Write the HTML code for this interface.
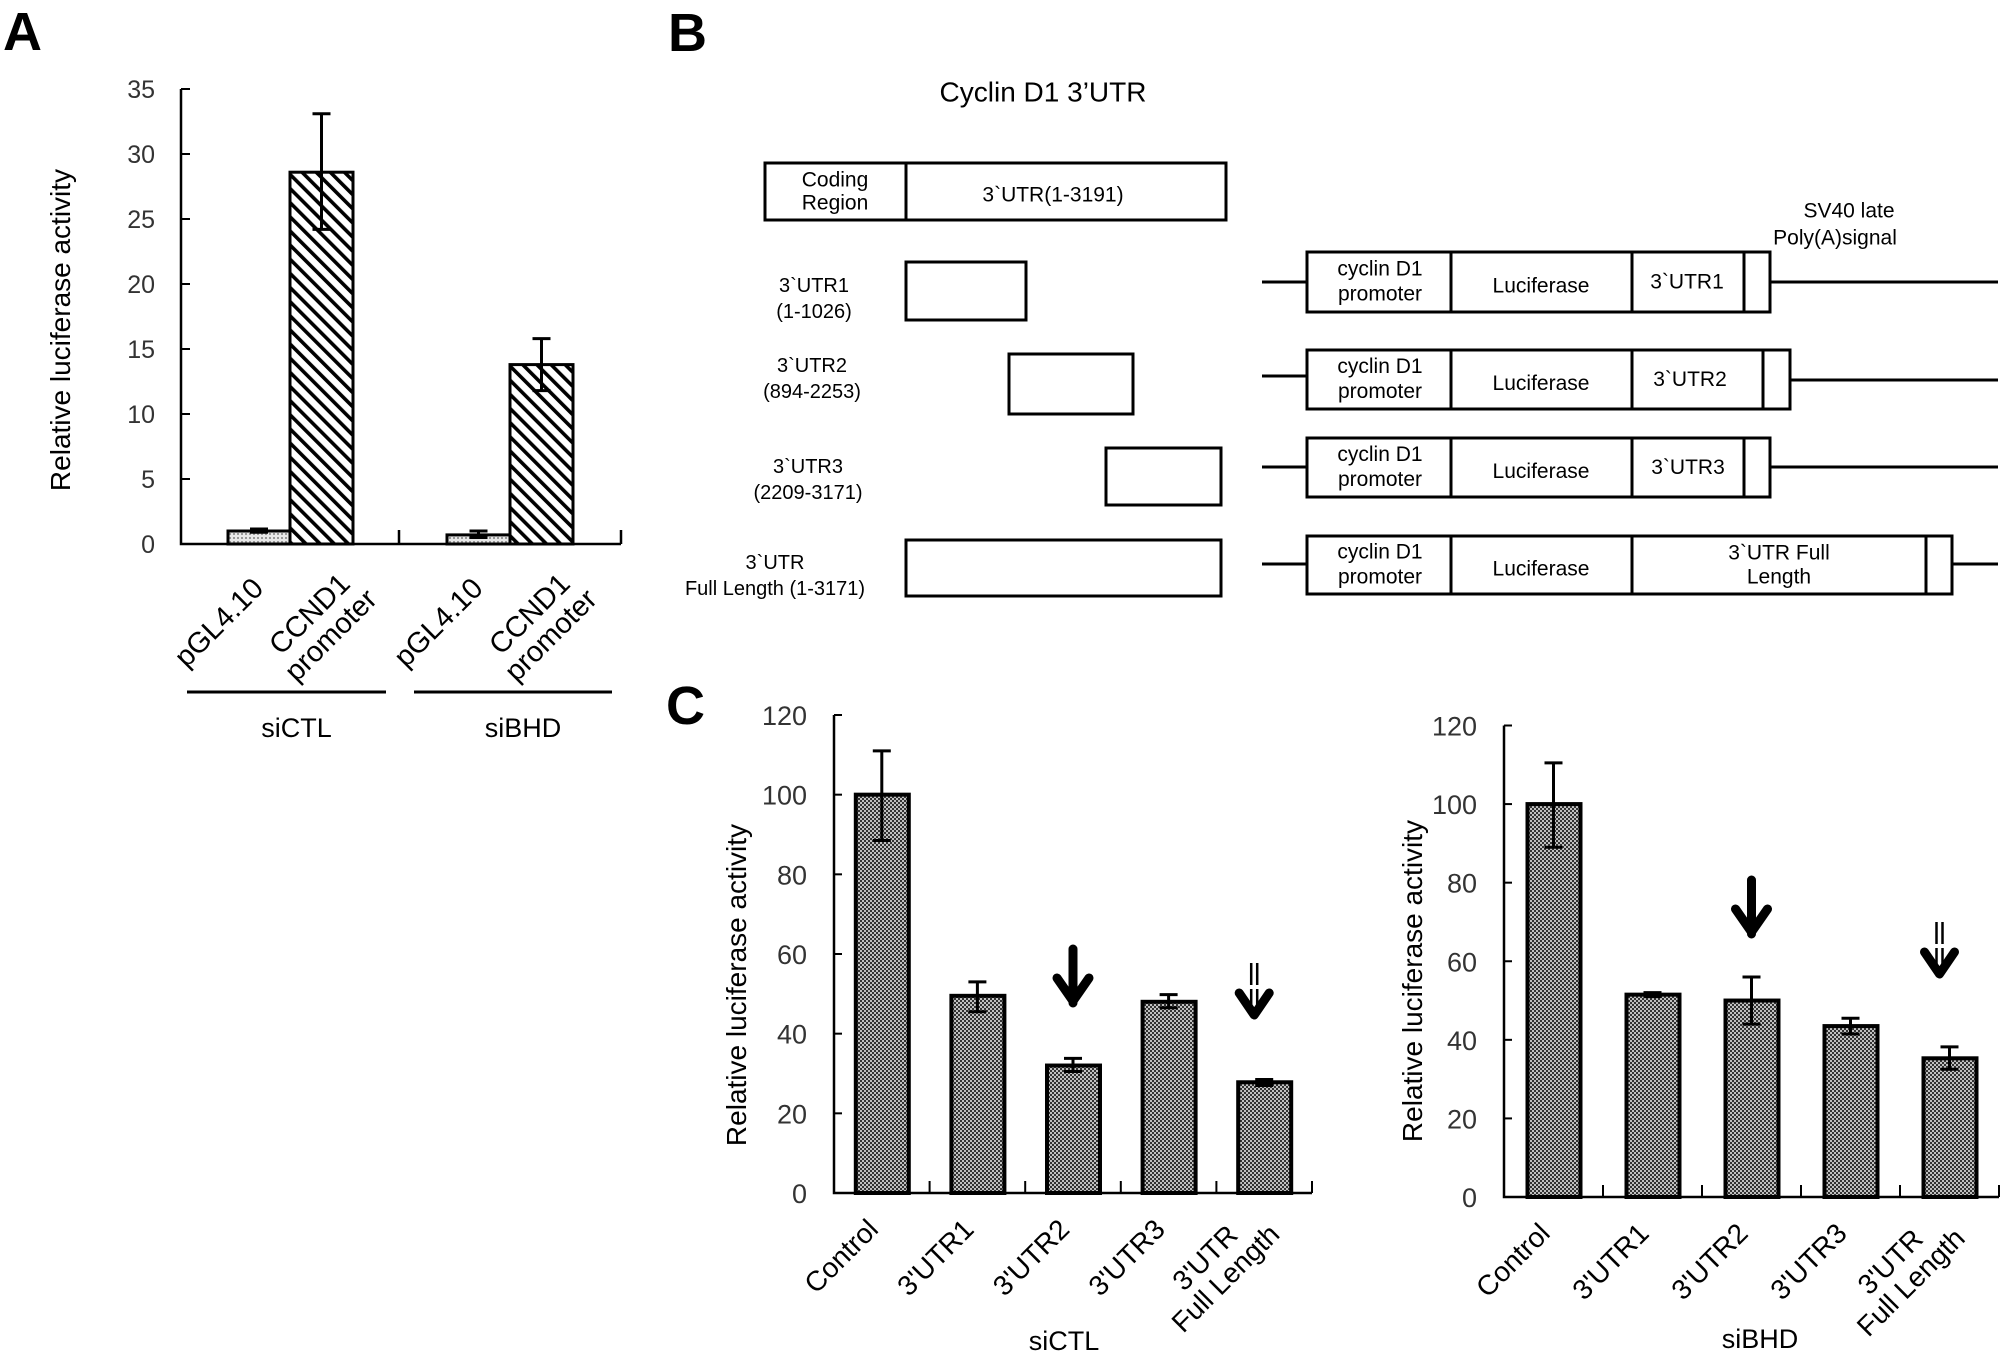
<!DOCTYPE html>
<html><head><meta charset="utf-8"><style>
html,body{margin:0;padding:0;background:#fff;}
svg{display:block;font-family:"Liberation Sans",Arial,sans-serif;}
</style></head><body>
<svg id="fig" width="2008" height="1360" viewBox="0 0 2008 1360" xmlns="http://www.w3.org/2000/svg">
<defs>
<pattern id="hatch" patternUnits="userSpaceOnUse" width="10" height="10" patternTransform="rotate(-45)">
<rect width="10" height="10" fill="#fff"/><rect x="0" y="0" width="3.6" height="10" fill="#000"/></pattern>
<pattern id="dots" patternUnits="userSpaceOnUse" width="4" height="4">
<rect width="4" height="4" fill="#e8e8e8"/><rect x="1" y="1" width="2" height="2" fill="#999"/></pattern>
<pattern id="check" patternUnits="userSpaceOnUse" width="4" height="4">
<rect width="4" height="4" fill="#c0c0c0"/><rect x="0" y="0" width="2" height="2" fill="#333"/><rect x="2" y="2" width="2" height="2" fill="#333"/></pattern>
</defs>
<g id="gA"></g>
<g id="gB"></g>
<g id="gC1"></g>
<g id="gC2"></g>
</svg>
<script>
// ---- Panel A data ----
const aCategories = [["pGL4.10"],["CCND1","promoter"],["pGL4.10"],["CCND1","promoter"]];
const aValues = [1.0, 28.6, 0.7, 13.8];
const aErrHigh = [1.15, 33.1, 1.0, 15.8];
const aErrLow = [0.9, 24.2, 0.5, 11.8];
const aTicks = [0,5,10,15,20,25,30,35];
const aGroups = ["siCTL","siBHD"];
// ---- Panel C data ----
const cCategories = [["Control"],["3'UTR1"],["3'UTR2"],["3'UTR3"],["3'UTR","Full Length"]];
const c1Values = [100, 49.5, 32, 48, 27.8];
const c1ErrHigh = [111, 53, 33.8, 49.8, 28.5];
const c1ErrLow = [88.5, 45.5, 30.5, 46.5, 27];
const c2Values = [100, 51.5, 50, 43.5, 35.3];
const c2ErrHigh = [110.5, 52, 56, 45.5, 38.2];
const c2ErrLow = [89, 51, 44, 41.5, 32.5];
const cTicks = [0,20,40,60,80,100,120];

const NS="http://www.w3.org/2000/svg";
function mk(parent,tag,attrs,text){const e=document.createElementNS(NS,tag);for(const k in attrs)e.setAttribute(k,attrs[k]);if(text!==undefined)e.textContent=text;parent.appendChild(e);return e;}

// ===== Panel A =====
(function(){
const g=document.getElementById('gA');
const x0=181,x1=621,y0=544,ppu=13;
const yS=v=>y0-v*ppu;
const barX=[228,290,447,510], barW=[62,63,63,63];
let t=mk(g,'text',{x:3,y:50,'font-size':54,'font-weight':'bold'},'A');


let ax=mk(g,'path',{d:`M${x0},${yS(35)}V${y0}H${x1}`,stroke:'#000','stroke-width':2.5,fill:'none'});


mk(g,'path',{d:`M399,${y0}v-14M${x1},${y0}v-14`,stroke:'#000','stroke-width':2.5});
aTicks.forEach(v=>{
 mk(g,'line',{x1:x0,x2:x0+9,y1:yS(v),y2:yS(v),stroke:'#000','stroke-width':2});
 const tl=mk(g,'text',{x:155,y:yS(v)+9,'font-size':25,'text-anchor':'end',fill:'#333'},String(v));
 
 
});
let yt=mk(g,'text',{transform:'translate(70,330) rotate(-90)','font-size':28,'text-anchor':'middle'},'Relative luciferase activity');


aValues.forEach((v,i)=>{
 const r=mk(g,'rect',{x:barX[i],y:yS(v),width:barW[i],height:y0-yS(v),fill:i%2?'url(#hatch)':'url(#dots)',stroke:'#000','stroke-width':3});
 
 
 const cx=barX[i]+barW[i]/2;
 const e=mk(g,'path',{d:`M${cx},${yS(aErrHigh[i])}V${yS(aErrLow[i])}M${cx-9},${yS(aErrHigh[i])}h18M${cx-9},${yS(aErrLow[i])}h18`,stroke:'#000','stroke-width':3,fill:'none'});
 
 
 const lines=aCategories[i];
 let lab;
 if(lines.length===1){
  lab=mk(g,'text',{transform:`translate(${cx+6},${y0+46}) rotate(-45)`,'font-size':29,'text-anchor':'end'},lines[0]);
 } else {
  lab=mk(g,'text',{transform:`translate(${cx+16},${y0+98}) rotate(-45)`,'font-size':29,'text-anchor':'middle'});
  mk(lab,'tspan',{x:0,y:-30},lines[0]);mk(lab,'tspan',{x:0,y:0},lines[1]);
 }
 
 
});
const gl=[[187,386],[414,612]];
aGroups.forEach((s,i)=>{
 const l=mk(g,'line',{x1:gl[i][0],x2:gl[i][1],y1:692,y2:692,stroke:'#000','stroke-width':3});
 
 
 const tx=mk(g,'text',{x:(gl[i][0]+gl[i][1])/2+10,y:737,'font-size':27,'text-anchor':'middle'},s);
 
 
});
})();

// ===== Panel B =====
(function(){
const g=document.getElementById('gB');
function T(x,y,s,fs,name){const t=mk(g,'text',{x:x,y:y,'font-size':fs||20,'text-anchor':'middle','dominant-baseline':'central'},s);return t;}
function R(x,y,w,h,name){const r=mk(g,'rect',{x:x,y:y,width:w,height:h,fill:'#fff',stroke:'#000','stroke-width':3});return r;}
let t=mk(g,'text',{x:668,y:51,'font-size':54,'font-weight':'bold'},'B');


T(1043,92,"Cyclin D1 3’UTR",28,'diagram-title');
R(765,163,461,57,'full-utr-box');
mk(g,'line',{x1:906,x2:906,y1:163,y2:220,stroke:'#000','stroke-width':3});
T(835,180,'Coding',21);T(835,203,'Region',21);
T(1053,195,'3`UTR(1-3191)',21);
R(906,262,120,58,'utr1-box');R(1009,354,124,60,'utr2-box');R(1106,448,115,57,'utr3-box');R(906,540,315,56,'utr-full-box');
T(814,286,'3`UTR1');T(814,312,'(1-1026)');
T(812,366,'3`UTR2');T(812,392,'(894-2253)');
T(808,467,'3`UTR3');T(808,493,'(2209-3171)');
T(775,563,'3`UTR');T(775,589,'Full Length (1-3171)');
T(1849,211,'SV40 late',21,'sv40-label');T(1835,238,'Poly(A)signal',21,'sv40-label');
const rows=[
 {top:252,bot:312,end:1770,pa:1744,yl:282,yr:282,t3:['3`UTR1'],c3:1687},
 {top:350,bot:409,end:1790,pa:1763,yl:376,yr:380,t3:['3`UTR2'],c3:1690},
 {top:438,bot:497,end:1770,pa:1744,yl:467,yr:467,t3:['3`UTR3'],c3:1688},
 {top:536,bot:594,end:1952,pa:1926,yl:564,yr:564,t3:['3`UTR  Full','Length'],c3:1779}];
rows.forEach((r,i)=>{
 const h=r.bot-r.top, m=(r.top+r.bot)/2;
 const ln=mk(g,'path',{d:`M1262,${r.yl}H1307M${r.end},${r.yr}H1998`,stroke:'#000','stroke-width':3});
 
 
 R(1307,r.top,r.end-1307,h,'construct-'+(i+1));
 mk(g,'path',{d:`M1451,${r.top}V${r.bot}M1632,${r.top}V${r.bot}M${r.pa},${r.top}V${r.bot}`,stroke:'#000','stroke-width':3});
 T(1380,m-13,'cyclin D1',21);T(1380,m+12,'promoter',21);
 T(1541,m+4,'Luciferase',21);
 if(r.t3.length===1)T(r.c3,m,r.t3[0],21);else{T(r.c3,m-12,r.t3[0],21);T(r.c3,m+12,r.t3[1],21);}
});
})();

// ===== Panel C =====
function drawC(gid,cfg,vals,hi,lo,grp){
 const g=document.getElementById(gid);
 const {x0,x1,y0,y120}=cfg;
 const yS=v=>y0-(y0-y120)*v/120;
 const cw=(x1-x0)/cCategories.length;
 const xS=i=>x0+cw*(i+0.5);
 const ax=mk(g,'path',{d:`M${x0},${y120}V${y0}H${x1}`,stroke:'#000','stroke-width':2.5,fill:'none'});
 
 
 for(let i=1;i<=cCategories.length;i++)mk(g,'line',{x1:x0+cw*i,x2:x0+cw*i,y1:y0,y2:y0-12,stroke:'#000','stroke-width':2});
 cTicks.forEach(v=>{
  mk(g,'line',{x1:x0,x2:x0+8,y1:yS(v),y2:yS(v),stroke:'#000','stroke-width':2});
  const tl=mk(g,'text',{x:cfg.lx,y:yS(v)+10,'font-size':27,'text-anchor':'end',fill:'#333'},String(v));
  
  
 });
 const yt=mk(g,'text',{transform:`translate(${cfg.tx},${cfg.ty}) rotate(-90)`,'font-size':28,'text-anchor':'middle'},'Relative luciferase activity');
 
 
 vals.forEach((v,i)=>{
  const cx=xS(i);
  const r=mk(g,'rect',{x:cx-26,y:yS(v),width:53,height:y0-yS(v),fill:'url(#check)',stroke:'#000','stroke-width':4});
  
  
  const e=mk(g,'path',{d:`M${cx},${yS(hi[i])}V${yS(lo[i])}M${cx-9},${yS(hi[i])}h18M${cx-9},${yS(lo[i])}h18`,stroke:'#000','stroke-width':3,fill:'none'});
  
  
  const lines=cCategories[i];let lab;
  if(lines.length===1){
   lab=mk(g,'text',{transform:`translate(${cx-2},${y0+38}) rotate(-45)`,'font-size':28,'text-anchor':'end'},lines[0]);
  }else{
   lab=mk(g,'text',{transform:`translate(${cx-32},${y0+92}) rotate(-45)`,'font-size':28,'text-anchor':'middle'});
   mk(lab,'tspan',{x:0,y:-29},lines[0]);mk(lab,'tspan',{x:0,y:0},lines[1]);
  }
  
  
 });
 const a=mk(g,'path',{d:`M${xS(2)},${cfg.a1}V${cfg.a1+54}M${xS(2)-16},${cfg.a1+29}L${xS(2)},${cfg.a1+52}L${xS(2)+16},${cfg.a1+29}`,stroke:'#000','stroke-width':9,fill:'none','stroke-linecap':'round','stroke-linejoin':'round'});
 
 
 const bx=xS(4)-10, b=cfg.a2;
 const d=mk(g,'g',{});
 
 
 mk(d,'path',{d:`M${bx-3},${b}v22M${bx+3},${b}v22M${bx-3},${b+26}v18M${bx+3},${b+26}v18`,stroke:'#000','stroke-width':2.5});
 mk(d,'path',{d:`M${bx-15},${b+30}L${bx},${b+52}L${bx+15},${b+30}`,stroke:'#000','stroke-width':9,fill:'none','stroke-linecap':'round','stroke-linejoin':'round'});
 const gl=mk(g,'text',{x:cfg.gx,y:cfg.gy,'font-size':27,'text-anchor':'middle'},grp==='c1'?'siCTL':'siBHD');
 
 
}
drawC('gC1',{x0:834,x1:1312,y0:1193,y120:715,lx:807,tx:746,ty:985,a1:949,a2:963,gx:1064,gy:1350},c1Values,c1ErrHigh,c1ErrLow,'c1');
drawC('gC2',{x0:1504,x1:1999,y0:1197,y120:725.5,lx:1477,tx:1422,ty:981,a1:880,a2:922,gx:1760,gy:1348},c2Values,c2ErrHigh,c2ErrLow,'c2');
(function(){const g=document.getElementById('gC1');
const t=mk(g,'text',{x:666,y:724,'font-size':54,'font-weight':'bold'},'C');

})();
</script>
</body></html>
